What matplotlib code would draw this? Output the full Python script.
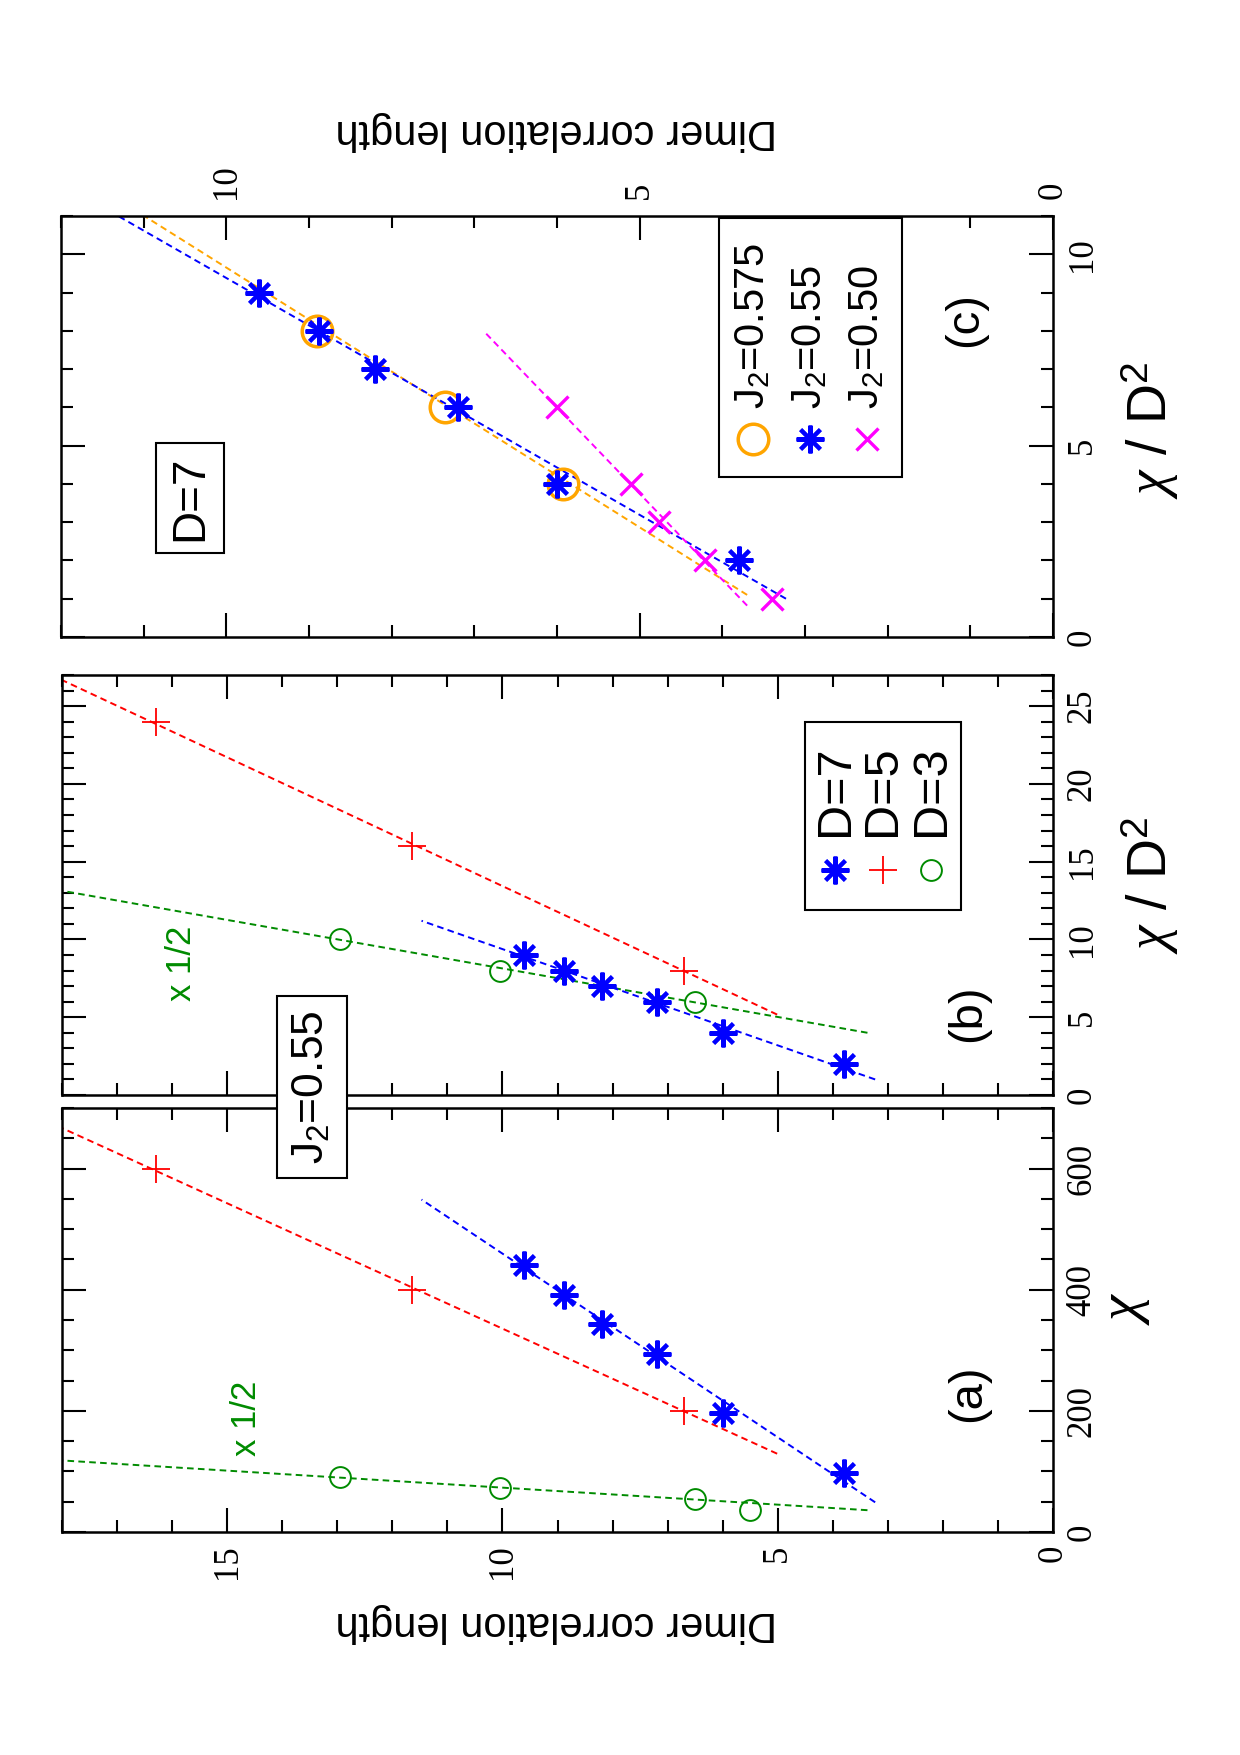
import matplotlib
matplotlib.use('Agg')
import matplotlib.pyplot as plt
from matplotlib.patches import Rectangle

plt.rcParams['font.family'] = ['Liberation Sans', 'DejaVu Sans']
plt.rcParams['mathtext.fontset'] = 'custom'
plt.rcParams['mathtext.rm'] = 'Liberation Sans'
plt.rcParams['mathtext.it'] = 'Liberation Serif:italic'

W, H = 1240, 1755

# D=7, J2=0.55 (chi/D^2, correlation length)
d7_x = [2, 4, 6, 7, 8, 9]
d7_xi = [3.8, 6.0, 7.2, 8.2, 8.88, 9.6]
# D=5
d5_x = [8, 16, 24]
d5_xi = [6.7, 11.65, 16.3]
# D=3 (panel a has one extra point)
d3_x_a = [4, 6, 8, 10]
d3_xi_a = [5.5, 6.5, 10.05, 12.95]
d3_x_b = [6, 8, 10]
d3_xi_b = [6.5, 10.05, 12.95]

# dashed fit lines, endpoints in chi/D^2
fit_d7_x, fit_d7_xi = [1.0, 11.2], [3.23, 11.47]
fit_d5_x, fit_d5_xi = [5.17, 28.0], [5.01, 18.8]
fit_d3_x, fit_d3_xi = [4.0, 14.0], [3.37, 19.4]

# panel (c), D=7
j575_x = [4, 6, 8]
j575_xi = [5.93, 7.36, 8.9]
j50_x = [1, 2, 3, 4, 6]
j50_xi = [3.4, 4.21, 4.77, 5.1, 6.0]
fit_j575_x, fit_j575_xi = [1.1, 11.2], [3.7, 11.14]
fit_j50_x, fit_j50_xi = [0.82, 8.0], [3.7, 6.89]

BLUE, RED, GREEN = '#0000ff', '#ff0000', '#008b00'
ORANGE, MAGENTA = '#ffa500', '#ff00ff'
STAR = (8, 2, 0)
DASH = (0, (3.4, 2.2))
STAR_MS, STAR_MEW = 20, 2.9
PLUS_MS, CIRC_MS, ORC_MS, X_MS = 20, 15, 22, 16


def rect(l, t, r, b):
    return [l / W, 1 - b / H, (r - l) / W, (b - t) / H]


def px(x, y):
    return (x / W, 1 - y / H)


def style(ax):
    for s in ax.spines.values():
        s.set_linewidth(1.8)
    ax.tick_params(which='both', direction='in', top=True, bottom=True,
                   left=True, right=True, width=1.5,
                   labelleft=False, labelright=True, labelbottom=False)
    ax.tick_params(which='major', length=17, pad=9)
    ax.tick_params(which='minor', length=8.5)


def fix_labels(ax):
    for lab in ax.get_xticklabels() + ax.get_yticklabels():
        lab.set_fontfamily('Liberation Serif')
        lab.set_fontsize(25)
        lab.set_rotation(90)
    for lab in ax.get_yticklabels():
        lab.set_verticalalignment('center')


def line(ax, x, y, c, scale=1):
    ax.plot(y, [v * scale for v in x], color=c, lw=1.4, ls=DASH)


fig = plt.figure(figsize=(W / 100, H / 100), dpi=100)

# ---- panel (a): correlation length vs chi
axa = fig.add_axes(rect(62, 1108, 1053, 1532))
style(axa)
line(axa, fit_d3_x, fit_d3_xi, GREEN, 9)
line(axa, fit_d5_x, fit_d5_xi, RED, 25)
line(axa, fit_d7_x, fit_d7_xi, BLUE, 49)
axa.plot(d3_xi_a, [v * 9 for v in d3_x_a], 'o', mfc='none', mec=GREEN, ms=CIRC_MS, mew=1.4)
axa.plot(d5_xi, [v * 25 for v in d5_x], '+', mec=RED, ms=PLUS_MS, mew=1.3)
axa.plot(d7_xi, [v * 49 for v in d7_x], marker=STAR, ls='none', mec=BLUE, ms=STAR_MS, mew=STAR_MEW)
axa.set_xlim(18, 0)
axa.set_ylim(0, 700)
axa.set_xticks([0, 5, 10, 15])
axa.set_xticks(range(0, 19), minor=True)
axa.set_yticks([0, 200, 400, 600])
axa.set_yticks(range(0, 701, 50), minor=True)
axa.tick_params(labelbottom=True)
fix_labels(axa)

# ---- panel (b): correlation length vs chi/D^2
axb = fig.add_axes(rect(62, 675, 1053, 1095))
style(axb)
line(axb, fit_d3_x, fit_d3_xi, GREEN)
line(axb, fit_d5_x, fit_d5_xi, RED)
line(axb, fit_d7_x, fit_d7_xi, BLUE)
axb.plot(d3_xi_b, d3_x_b, 'o', mfc='none', mec=GREEN, ms=CIRC_MS, mew=1.4)
axb.plot(d5_xi, d5_x, '+', mec=RED, ms=PLUS_MS, mew=1.3)
axb.plot(d7_xi, d7_x, marker=STAR, ls='none', mec=BLUE, ms=STAR_MS, mew=STAR_MEW)
axb.set_xlim(18, 0)
axb.set_ylim(0, 27)
axb.set_xticks([0, 5, 10, 15])
axb.set_xticks(range(0, 19), minor=True)
axb.set_yticks(range(0, 26, 5))
axb.set_yticks(range(0, 28), minor=True)
fix_labels(axb)

# ---- panel (c): D=7, several J2
axc = fig.add_axes(rect(61, 216, 1053, 637))
style(axc)
line(axc, fit_j575_x, fit_j575_xi, ORANGE)
line(axc, fit_d7_x, fit_d7_xi, BLUE)
line(axc, fit_j50_x, fit_j50_xi, MAGENTA)
axc.plot(j575_xi, j575_x, 'o', mfc='none', mec=ORANGE, ms=ORC_MS, mew=2.5)
axc.plot(d7_xi, d7_x, marker=STAR, ls='none', mec=BLUE, ms=STAR_MS, mew=STAR_MEW)
axc.plot(j50_xi, j50_x, 'x', mec=MAGENTA, ms=X_MS, mew=2.4)
axc.set_xlim(12, 0)
axc.set_ylim(0, 11)
axc.set_xticks([0, 5, 10])
axc.set_xticks(range(0, 13), minor=True)
axc.set_yticks([0, 5, 10])
axc.set_yticks(range(0, 12), minor=True)
axc.tick_params(axis='x', labeltop=True, pad=12)
fix_labels(axc)

# ---- axis labels and annotations
fig.text(*px(556, 1623), 'Dimer correlation length', rotation=180,
         ha='center', va='center', fontsize=30)
fig.text(*px(556, 131), 'Dimer correlation length', rotation=180,
         ha='center', va='center', fontsize=30)
fig.text(*px(1125, 1308), r'$\chi$', rotation=90, ha='center', va='center', fontsize=42)
fig.text(*px(1150, 885), r'$\chi$ / D$^2$', rotation=90, ha='center', va='center', fontsize=40)
fig.text(*px(1150, 430), r'$\chi$ / D$^2$', rotation=90, ha='center', va='center', fontsize=40)
fig.text(*px(968, 1393), '(a)', rotation=90, ha='center', va='center', fontsize=34)
fig.text(*px(968, 1013), '(b)', rotation=90, ha='center', va='center', fontsize=34)
fig.text(*px(965, 320), '(c)', rotation=90, ha='center', va='center', fontsize=34)
fig.text(*px(247, 1418), 'x 1/2', rotation=90, ha='center', va='center', fontsize=25, color=GREEN)
fig.text(*px(182, 963), 'x 1/2', rotation=90, ha='center', va='center', fontsize=25, color=GREEN)
fig.text(*px(312, 1087), r'J$_2$=0.55', rotation=90, ha='center', va='center', fontsize=32,
         bbox=dict(boxstyle='square,pad=0.32', fc='white', ec='black', lw=1.5))
fig.text(*px(190, 498), 'D=7', rotation=90, ha='center', va='center', fontsize=33,
         bbox=dict(boxstyle='square,pad=0.27', fc='white', ec='black', lw=1.5))

# ---- legend (b)
fig.patches.append(Rectangle(px(805, 910), 156 / W, 188 / H, transform=fig.transFigure,
                             fill=False, ec='black', lw=1.5))
leg_b = [(835, STAR, BLUE, STAR_MS, STAR_MEW, 'D=7'), (883, '+', RED, PLUS_MS, 1.3, 'D=5'),
         (931, 'o', GREEN, CIRC_MS, 1.4, 'D=3')]
for x, m, c, ms, mew, lab in leg_b:
    fig.add_artist(plt.Line2D([x / W], [1 - 870 / H], marker=m, ls='none', mec=c,
                              mfc='none', ms=ms, mew=mew, transform=fig.transFigure))
    fig.text(*px(x, 836), lab, rotation=90, ha='center', va='bottom', fontsize=35)

# ---- legend (c)
fig.patches.append(Rectangle(px(719, 477), 183 / W, 259 / H, transform=fig.transFigure,
                             fc='white', ec='black', lw=1.5))
leg_c = [(753, 'o', ORANGE, ORC_MS, 2.5, r'J$_2$=0.575'),
         (810, STAR, BLUE, STAR_MS, STAR_MEW, r'J$_2$=0.55'),
         (867, 'x', MAGENTA, X_MS, 2.4, r'J$_2$=0.50')]
for x, m, c, ms, mew, lab in leg_c:
    fig.add_artist(plt.Line2D([x / W], [1 - 439 / H], marker=m, ls='none', mec=c,
                              mfc='none', ms=ms, mew=mew, transform=fig.transFigure))
    fig.text(*px(x, 409), lab, rotation=90, ha='center', va='bottom', fontsize=30)

fig.savefig('out.png', dpi=100, facecolor='white')
